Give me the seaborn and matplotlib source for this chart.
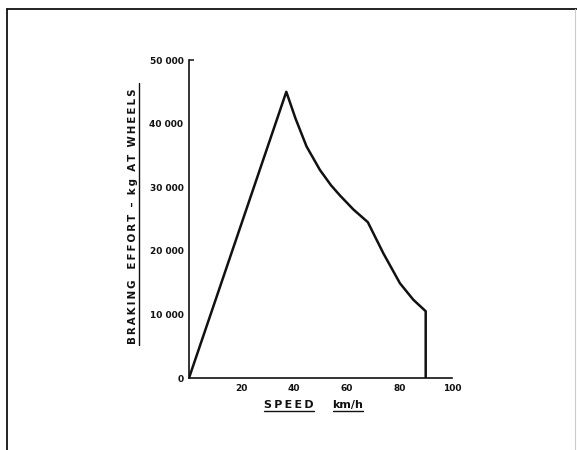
import matplotlib
matplotlib.use("Agg")
import matplotlib.pyplot as plt
import matplotlib.lines as mlines
import seaborn as sns
import pandas as pd

speed = [0, 37, 40.5, 44.7, 49.8, 54, 57.4, 62.5, 68, 73.9, 80.2, 85.3, 90, 90]
effort = [0, 45000, 40800, 36400, 32700, 30300, 28700, 26500, 24500, 19600, 14900, 12300, 10500, 0]
x_ticks = [20, 40, 60, 80, 100]
y_ticks = [0, 10000, 20000, 30000, 40000, 50000]
y_tick_labels = ["0", "10 000", "20 000", "30 000", "40 000", "50 000"]
x_label_parts = ["SPEED", "km/h"]
y_label_words = ["BRAKING", "EFFORT", "–", "kg", "AT", "WHEELS"]

sns.set_style("white")
plt.rcParams['font.family'] = ['DejaVu Sans']

W, H = 577, 450
INK = "#111111"
fig = plt.figure(figsize=(W / 100, H / 100), dpi=100)
ax = fig.add_axes([189 / W, 72 / H, 263 / W, 318 / H])

df = pd.DataFrame({"speed": speed, "effort": effort})
sns.lineplot(data=df, x="speed", y="effort", sort=False, estimator=None,
             color=INK, linewidth=1.8, ax=ax)

ax.set_xlim(0, 100)
ax.set_ylim(0, 50000)
ax.set_xticks(x_ticks)
ax.set_xticklabels([str(t) for t in x_ticks], fontsize=6.5, fontweight="bold")
ax.set_yticks(y_ticks)
ax.set_yticklabels(y_tick_labels, fontsize=6.5, fontweight="bold")
ax.set_xlabel("")
ax.set_ylabel("")
for s in ["top", "right"]:
    ax.spines[s].set_visible(False)
for s in ["left", "bottom"]:
    ax.spines[s].set_color(INK)
    ax.spines[s].set_linewidth(1.2)
ax.tick_params(axis="x", direction="in", length=3, width=1, pad=4, colors=INK)
ax.tick_params(axis="y", direction="out", length=3, width=1, pad=1, colors=INK)
# top of the y axis: tick turns to the right
ax.plot([0], [y_ticks[-1]], marker=mlines.TICKRIGHT, markersize=3.5, mew=1.1,
        color=INK, clip_on=False)

def spaced(word):
    return "\u2009".join(word)

fig.canvas.draw()
ax.yaxis.get_major_ticks()[-1].tick1line.set_visible(False)
r = fig.canvas.get_renderer()

def underline(t, offset_px, horizontal=True, extra=0):
    bb = t.get_window_extent(renderer=r)
    if horizontal:
        y = bb.y0 - offset_px
        fig.add_artist(mlines.Line2D([bb.x0 / W, bb.x1 / W], [y / H, y / H],
                                     color=INK, lw=1.0))
    else:
        x = bb.x1 + offset_px
        fig.add_artist(mlines.Line2D([x / W, x / W], [(bb.y0 - 1) / H, (bb.y1 + extra) / H],
                                     color=INK, lw=1.0))

t1 = fig.text(289 / W, (H - 405) / H, spaced(x_label_parts[0]), fontsize=8, fontweight="bold",
              ha="center", va="center", color=INK)
t2 = fig.text(348 / W, (H - 405) / H, x_label_parts[1], fontsize=8, fontweight="bold",
              ha="center", va="center", color=INK)
ylab = "   ".join([spaced(y_label_words[0]), "  ".join(spaced(w) for w in y_label_words[1:])])
t3 = fig.text(133 / W, (H - 216) / H, ylab, fontsize=7.4, fontweight="bold",
              ha="center", va="center", rotation=90, color=INK)
fig.canvas.draw()
underline(t1, 1.0)
underline(t2, 1.0)
underline(t3, 1.0, horizontal=False, extra=5)

# Page frame
fig.add_artist(mlines.Line2D([7 / W, 7 / W], [0, (H - 9) / H], color=INK, lw=1.3))
fig.add_artist(mlines.Line2D([7 / W, 1], [(H - 9) / H, (H - 9) / H], color=INK, lw=1.3))
fig.add_artist(mlines.Line2D([575 / W, 575 / W], [0, (H - 9) / H], color="#cccccc", lw=0.8))

fig.savefig("out.png", dpi=100)
